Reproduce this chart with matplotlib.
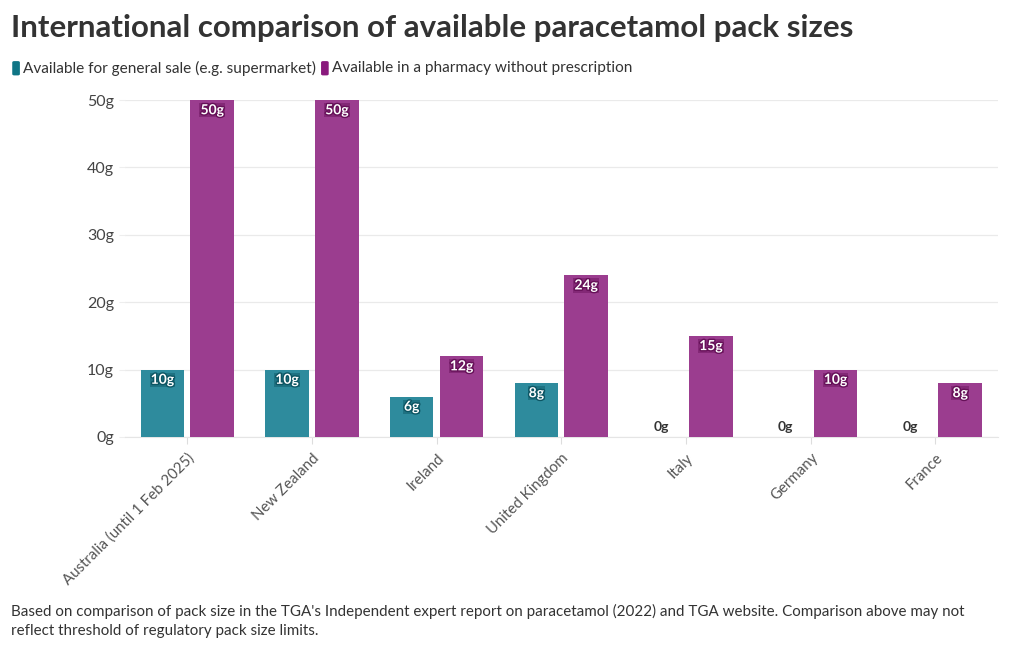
import matplotlib
matplotlib.use("Agg")
import matplotlib.pyplot as plt
import matplotlib.patheffects as pe
from matplotlib.patches import FancyBboxPatch
import numpy as np

plt.rcParams['font.family'] = ['Lato', 'DejaVu Sans']

categories = ["Australia (until 1 Feb 2025)", "New Zealand", "Ireland", "United Kingdom",
              "Italy", "Germany", "France"]
general_sale = [10, 10, 6, 8, 0, 0, 0]
pharmacy = [50, 50, 12, 24, 15, 10, 8]
series_names = ["Available for general sale (e.g. supermarket)",
                "Available in a pharmacy without prescription"]
yticks = [0, 10, 20, 30, 40, 50]

teal = "#2e8b9d"
purple = "#9b3d8f"
teal_leg = "#0f7585"
purple_leg = "#8a1a7d"
teal_dark = "#0c5563"
purple_dark = "#661058"

fig = plt.figure(figsize=(10.2, 6.5), dpi=100)
ax = fig.add_axes([0.1225, 0.3277, 0.8555, 0.5183])

x = np.arange(len(categories))
w = 0.35
off = 0.2
ax.bar(x - off, general_sale, width=w, color=teal, zorder=3)
ax.bar(x + off, pharmacy, width=w, color=purple, zorder=3)

ax.set_xlim(-0.5, len(categories) - 0.5)
ax.set_ylim(0, 50)
ax.set_yticks(yticks)
ax.set_yticklabels([f"{v}g" for v in yticks], fontsize=11.5, color="#444444")
ax.set_xticks(x)
ax.set_xticklabels(categories, rotation=45, ha="right", rotation_mode="anchor",
                   fontsize=10.8, color="#555555")
ax.tick_params(axis='x', length=5, color="#dddddd", pad=5)
ax.tick_params(axis='y', length=4, color="#eeeeee", pad=4)
ax.grid(axis='y', color="#eaeaea", linewidth=0.9, zorder=0)
for s in ["top", "right", "left"]:
    ax.spines[s].set_visible(False)
ax.spines["bottom"].set_color("#e5e5e5")

def label(xpos, v, dark):
    if v == 0:
        ax.annotate(f"{v}g", (xpos, 0), xytext=(0, 3), textcoords="offset points",
                    ha="center", va="bottom", fontsize=10, fontweight="bold",
                    color="#333333", zorder=5)
    else:
        ax.annotate(f"{v}g", (xpos, v), xytext=(0, -3), textcoords="offset points",
                    ha="center", va="top", fontsize=10, fontweight="bold",
                    color="white", zorder=5,
                    bbox=dict(boxstyle="square,pad=0.08", fc=dark, ec="none", alpha=0.45),
                    path_effects=[pe.withStroke(linewidth=2, foreground=dark)])

for i in range(len(categories)):
    label(x[i] - off, general_sale[i], teal_dark)
    label(x[i] + off, pharmacy[i], purple_dark)

fig.text(0.011, 0.957, "International comparison of available paracetamol pack sizes",
         fontsize=22.5, fontweight="bold", color="#333333", va="center", ha="left")

# legend
leg_y = 0.895
xs = 0.012
for name, col in zip(series_names, [teal_leg, purple_leg]):
    patch = FancyBboxPatch((xs, leg_y - 0.011), 0.0075, 0.022,
                           boxstyle="round,pad=0,rounding_size=0.002",
                           transform=fig.transFigure, fc=col, ec="none")
    fig.patches.append(patch)
    t = fig.text(xs + 0.0105, leg_y, name, fontsize=11.1, color="#333333",
                 va="center", ha="left")
    fig.canvas.draw()
    bb = t.get_window_extent()
    xs = bb.x1 / fig.bbox.width + 0.005

fig.text(0.011, 0.045,
         "Based on comparison of pack size in the TGA's Independent expert report on paracetamol (2022) and TGA website. Comparison above may not\nreflect threshold of regulatory pack size limits.",
         fontsize=10.9, color="#333333", va="center", ha="left", linespacing=1.5)

fig.savefig("out.png", dpi=100, facecolor="white")
